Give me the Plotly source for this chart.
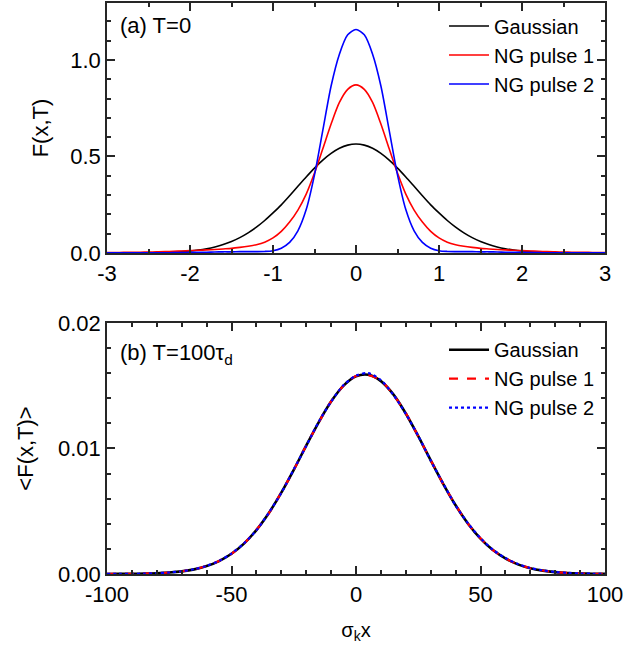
import plotly.graph_objects as go

# ---------- panel (a): T = 0 ----------
x_a = [-3.0, -2.9, -2.8, -2.7, -2.6, -2.5, -2.4, -2.3, -2.2, -2.1, -2.0, -1.9, -1.8, -1.7, -1.6,
       -1.5, -1.4, -1.3, -1.2, -1.1, -1.0, -0.9, -0.8, -0.7, -0.6, -0.5, -0.4, -0.3, -0.2, -0.1,
       0.0, 0.1, 0.2, 0.3, 0.4, 0.5, 0.6, 0.7, 0.8, 0.9, 1.0, 1.1, 1.2, 1.3, 1.4, 1.5, 1.6, 1.7,
       1.8, 1.9, 2.0, 2.1, 2.2, 2.3, 2.4, 2.5, 2.6, 2.7, 2.8, 2.9, 3.0]

gauss_half = [0.5642, 0.5586, 0.5421, 0.5156, 0.4808, 0.4394, 0.3936, 0.3454, 0.2966, 0.2494,
              0.2076, 0.1683, 0.1337, 0.1041, 0.0795, 0.0595, 0.0436, 0.0314, 0.0221, 0.0153,
              0.0103, 0.0069, 0.0045, 0.0028, 0.0018, 0.0011, 0.0007, 0.0004, 0.0002, 0.0001, 0.0001]
ng1_half = [0.871, 0.848, 0.780, 0.668, 0.540, 0.414, 0.305, 0.222, 0.160, 0.112,
            0.078, 0.056, 0.043, 0.035, 0.029, 0.024, 0.021, 0.018, 0.016, 0.014,
            0.012, 0.010, 0.009, 0.007, 0.006, 0.005, 0.004, 0.003, 0.003, 0.002, 0.002]
ng2_half = [1.158, 1.130, 1.030, 0.865, 0.635, 0.405, 0.225, 0.115, 0.055, 0.025,
            0.012, 0.008, 0.007, 0.007, 0.007, 0.006, 0.006, 0.005, 0.004, 0.004,
            0.003, 0.002, 0.002, 0.001, 0.001, 0.001, 0.001, 0.0005, 0.0005, 0.0005, 0.0005]

gauss_a = gauss_half[::-1] + gauss_half[1:]
ng1_a = ng1_half[::-1] + ng1_half[1:]
ng2_a = ng2_half[::-1] + ng2_half[1:]

# ---------- panel (b): T = 100 tau_d ----------
x_b = [-100, -95, -90, -85, -80, -75, -70, -65, -60, -55, -50, -45, -40, -35, -30, -25, -20, -15,
       -10, -5, 0, 5, 10, 15, 20, 25, 30, 35, 40, 45, 50, 55, 60, 65, 70, 75, 80, 85, 90, 95, 100]
gauss_b = [0.000003, 0.000007, 0.000015, 0.00003, 0.00006, 0.000115, 0.00021, 0.00037, 0.00063,
           0.00103, 0.00161, 0.00242, 0.00350, 0.00486, 0.00648, 0.00830, 0.01022, 0.01209,
           0.01374, 0.01501, 0.01575, 0.01587, 0.01537, 0.01431, 0.01279, 0.01098, 0.00906,
           0.00719, 0.00548, 0.00401, 0.00282, 0.00191, 0.00124, 0.00077, 0.00046, 0.00027,
           0.00015, 0.000078, 0.00004, 0.00002, 0.000009]
ng1_b = [0.000003, 0.000008, 0.000016, 0.00003, 0.00006, 0.00012, 0.00022, 0.00038, 0.00064,
         0.00104, 0.00160, 0.00243, 0.00352, 0.00484, 0.00650, 0.00828, 0.01024, 0.01206,
         0.01376, 0.01500, 0.01578, 0.01585, 0.01540, 0.01428, 0.01282, 0.01096, 0.00908,
         0.00717, 0.00550, 0.00400, 0.00284, 0.00190, 0.00125, 0.00078, 0.00046, 0.00028,
         0.00015, 0.00008, 0.00004, 0.00002, 0.00001]
ng2_b = [0.000004, 0.000008, 0.000016, 0.00003, 0.00007, 0.00012, 0.00022, 0.00038, 0.00065,
         0.00104, 0.00163, 0.00244, 0.00348, 0.00488, 0.00646, 0.00833, 0.01020, 0.01212,
         0.01372, 0.01505, 0.01580, 0.01600, 0.01545, 0.01428, 0.01276, 0.01100, 0.00904,
         0.00722, 0.00546, 0.00404, 0.00286, 0.00193, 0.00127, 0.00080, 0.00048, 0.00029,
         0.00016, 0.00009, 0.00004, 0.00002, 0.00001]

series_names = ["Gaussian", "NG pulse 1", "NG pulse 2"]

xa_ticks = [-3, -2, -1, 0, 1, 2, 3]
xa_labels = ["-3", "-2", "-1", "0", "1", "2", "3"]
ya_ticks = [0, 0.5, 1.0]
ya_labels = ["0.0", "0.5", "1.0"]
xb_ticks = [-100, -50, 0, 50, 100]
xb_labels = ["-100", "-50", "0", "50", "100"]
yb_ticks = [0, 0.01, 0.02]
yb_labels = ["0.00", "0.01", "0.02"]

FONT = "Arial, Liberation Sans, sans-serif"
AX = "#262626"
TS = 22
LS = 20

fig = go.Figure()

for name, yv, col in zip(series_names, [gauss_a, ng1_a, ng2_a], ["#000000", "#FF0000", "#0000FF"]):
    fig.add_trace(go.Scatter(x=x_a, y=yv, mode="lines", name=name,
                             line=dict(color=col, width=1.6, shape="spline", smoothing=0.8),
                             xaxis="x", yaxis="y", legend="legend"))

styles = [("#000000", "solid", 2.6), ("#FF0000", "dash", 2.2), ("#0000FF", "dot", 2.2)]
for name, yv, (col, dash, w) in zip(series_names, [gauss_b, ng1_b, ng2_b], styles):
    fig.add_trace(go.Scatter(x=x_b, y=yv, mode="lines", name=name,
                             line=dict(color=col, width=w, dash=dash, shape="spline", smoothing=0.8),
                             xaxis="x2", yaxis="y2", legend="legend2"))

common_axis = dict(showline=True, linecolor=AX, linewidth=1.5, mirror="allticks",
                   ticks="inside", ticklen=8, tickwidth=1.5, tickcolor=AX,
                   showgrid=False, zeroline=False, automargin=False,
                   tickfont=dict(family=FONT, size=TS, color="#000"))

def minor(d):
    return dict(dtick=d, ticks="inside", ticklen=4, tickwidth=1.5, tickcolor=AX)

fig.update_layout(
    width=624, height=650,
    margin=dict(l=107, r=19, t=3, b=76),
    paper_bgcolor="white", plot_bgcolor="white",
    font=dict(family=FONT, size=TS, color="#000"),
    xaxis=dict(domain=[0, 1], anchor="y", range=[-3, 3], tickvals=xa_ticks, ticktext=xa_labels,
               minor=minor(0.5), **common_axis),
    yaxis=dict(domain=[0.5622, 1.0], anchor="x", range=[0, 1.295], tickvals=ya_ticks,
               ticktext=ya_labels, minor=minor(0.1),
               title=dict(text="F(x,T)", font=dict(family=FONT, size=TS), standoff=16),
               **common_axis),
    xaxis2=dict(domain=[0, 1], anchor="y2", range=[-100, 100], tickvals=xb_ticks,
                ticktext=xb_labels, minor=minor(10),
                title=dict(text="σ<sub>k</sub>x", font=dict(family=FONT, size=20), standoff=17),
                **common_axis),
    yaxis2=dict(domain=[0, 0.4396], anchor="x2", range=[0, 0.02], tickvals=yb_ticks,
                ticktext=yb_labels, minor=minor(0.002),
                title=dict(text="<F(x,T)>", font=dict(family=FONT, size=TS), standoff=18),
                **common_axis),
    legend=dict(x=0.99, y=0.994, xref="paper", yref="paper", xanchor="right", yanchor="top",
                bgcolor="rgba(0,0,0,0)", font=dict(family=FONT, size=LS), tracegroupgap=0,
                itemwidth=40),
    legend2=dict(x=0.99, y=0.427, xref="paper", yref="paper", xanchor="right", yanchor="top",
                 bgcolor="rgba(0,0,0,0)", font=dict(family=FONT, size=LS), tracegroupgap=0,
                 itemwidth=40),
    showlegend=True,
    annotations=[
        dict(text="(a) T=0", xref="x domain", yref="y domain", x=0.022, y=0.908,
             xanchor="left", yanchor="middle", showarrow=False, font=dict(family=FONT, size=TS)),
        dict(text="(b) T=100τ<sub>d</sub>", xref="x2 domain", yref="y2 domain", x=0.022, y=0.875,
             xanchor="left", yanchor="middle", showarrow=False, font=dict(family=FONT, size=TS)),
    ],
)

fig.write_html("out.html", config={"displayModeBar": False},
               post_script="document.body.style.margin='0px';")
